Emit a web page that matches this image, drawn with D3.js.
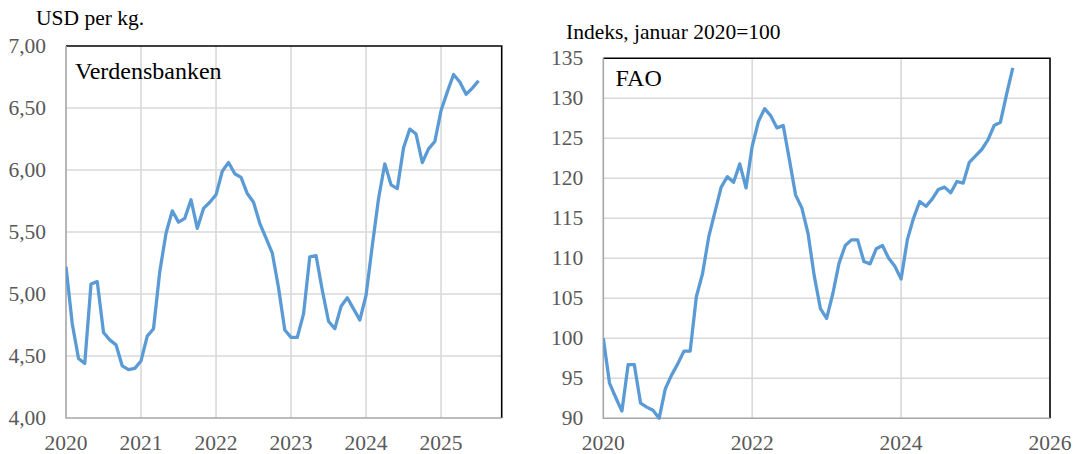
<!DOCTYPE html>
<html>
<head>
<meta charset="utf-8">
<script src="https://cdn.jsdelivr.net/npm/d3@7"></script>
<style>
  html, body { margin: 0; padding: 0; background: #fff; }
  svg text { font-family: "Liberation Serif", "Times New Roman", serif; }
</style>
</head>
<body>
<div id="app"></div>
<script>
// Monthly series, January 2020 to July 2025
const startYear = 2020;

// Verdensbanken, USD per kg.
const wbValues = [
  5.22, 4.76, 4.48, 4.44, 5.08, 5.10, 4.69, 4.63, 4.59, 4.42, 4.39, 4.40,
  4.46, 4.66, 4.72, 5.18, 5.49, 5.67, 5.58, 5.61, 5.76, 5.53, 5.69, 5.74,
  5.80, 5.99, 6.06, 5.97, 5.94, 5.81, 5.74, 5.57, 5.45, 5.33, 5.05, 4.71,
  4.65, 4.65, 4.84, 5.30, 5.31, 5.03, 4.78, 4.72, 4.90, 4.97, 4.88, 4.79,
  4.99, 5.39, 5.77, 6.05, 5.88, 5.85, 6.18, 6.33, 6.29, 6.06, 6.17, 6.23,
  6.48, 6.63, 6.77, 6.71, 6.61, 6.66, 6.72
];

// FAO, indeks januar 2020=100
const faoValues = [
  100.0, 94.4, 92.6, 90.9, 96.7, 96.7, 91.9, 91.4, 91.0, 90.0, 93.7, 95.4,
  96.8, 98.4, 98.4, 105.2, 108.1, 112.7, 115.8, 118.9, 120.2, 119.5, 121.8, 118.8,
  124.0, 127.1, 128.7, 127.8, 126.3, 126.6, 122.3, 117.9, 116.3, 113.1, 107.8, 103.7,
  102.5, 105.6, 109.4, 111.6, 112.3, 112.3, 109.6, 109.3, 111.2, 111.6, 110.0, 109.0,
  107.4, 112.3, 115.0, 117.1, 116.5, 117.4, 118.6, 118.9, 118.2, 119.6, 119.4, 122.0,
  122.8, 123.6, 124.8, 126.6, 127.0, 130.5, 133.8
];

const wbYTicks = [4.0, 4.5, 5.0, 5.5, 6.0, 6.5, 7.0];
const wbXTicks = [2020, 2021, 2022, 2023, 2024, 2025];
const faoYTicks = [90, 95, 100, 105, 110, 115, 120, 125, 130, 135];
const faoXTicks = [2020, 2022, 2024, 2026];

const d3 = window.d3;
const width = 1085, height = 454;
const serif = "'Liberation Serif', 'Times New Roman', serif";

const svg = d3.select("#app").append("svg")
  .attr("width", width)
  .attr("height", height);

const panels = [
  {
    values: wbValues,
    yTicks: wbYTicks,
    xTicks: wbXTicks,
    box: { left: 66, right: 501.7, top: 46, bottom: 418 },
    monthMax: 69.7,
    yDomain: [4, 7],
    fmt: (d) => d3.format(".2f")(d).replace(".", ","),
    unit: { text: "USD per kg.", x: 36, y: 25 },
    label: { text: "Verdensbanken", x: 75, y: 79 }
  },
  {
    values: faoValues,
    yTicks: faoYTicks,
    xTicks: faoXTicks,
    box: { left: 603.3, right: 1050, top: 58.3, bottom: 418.3 },
    monthMax: 72,
    yDomain: [90, 135],
    fmt: d3.format("d"),
    unit: { text: "Indeks, januar 2020=100", x: 566, y: 39 },
    label: { text: "FAO", x: 615.5, y: 86 }
  }
];

panels.forEach((p, i) => {
  const { box } = p;
  const x = d3.scaleLinear().domain([0, p.monthMax]).range([box.left, box.right]);
  const y = d3.scaleLinear().domain(p.yDomain).range([box.bottom, box.top]);
  const g = svg.append("g").attr("class", "panel-" + i);

  // gridlines
  g.append("g")
    .selectAll("line")
    .data(p.yTicks.filter((d) => d > p.yDomain[0] && d < p.yDomain[1]))
    .join("line")
    .attr("x1", box.left).attr("x2", box.right)
    .attr("y1", (d) => y(d)).attr("y2", (d) => y(d))
    .attr("stroke", "#d9d9d9").attr("stroke-width", 1.6);

  g.append("g")
    .selectAll("line")
    .data(p.xTicks.map((yr) => (yr - startYear) * 12).filter((m) => m > 0 && m < p.monthMax))
    .join("line")
    .attr("x1", (d) => x(d)).attr("x2", (d) => x(d))
    .attr("y1", box.top).attr("y2", box.bottom)
    .attr("stroke", "#d9d9d9").attr("stroke-width", 1.6);

  // frame: black top/right, grey axis lines left/bottom
  g.append("path")
    .attr("d", `M${box.left},${box.top}H${box.right}V${box.bottom}`)
    .attr("fill", "none").attr("stroke", "#000").attr("stroke-width", 1.6);
  g.append("path")
    .attr("d", `M${box.left},${box.top}V${box.bottom}H${box.right}`)
    .attr("fill", "none").attr("stroke", "#a6a6a6").attr("stroke-width", 1.6);

  // series
  const clipId = "clip" + i;
  g.append("clipPath").attr("id", clipId)
    .append("rect")
    .attr("x", box.left).attr("y", box.top - 2)
    .attr("width", box.right - box.left).attr("height", box.bottom - box.top + 4);

  const line = d3.line()
    .x((d, j) => x(j))
    .y((d) => y(d));

  g.append("path")
    .datum(p.values)
    .attr("clip-path", `url(#${clipId})`)
    .attr("fill", "none")
    .attr("stroke", "#5b9bd5")
    .attr("stroke-width", 3.3)
    .attr("stroke-linejoin", "round")
    .attr("d", line);

  // y tick labels
  g.append("g")
    .selectAll("text")
    .data(p.yTicks)
    .join("text")
    .attr("x", box.left - 20)
    .attr("y", (d) => y(d) + 7)
    .attr("text-anchor", "end")
    .attr("font-family", serif)
    .attr("font-size", "21.5px")
    .attr("fill", "#595959")
    .text(p.fmt);

  // x tick labels
  g.append("g")
    .selectAll("text")
    .data(p.xTicks)
    .join("text")
    .attr("x", (d) => x((d - startYear) * 12))
    .attr("y", 450)
    .attr("text-anchor", "middle")
    .attr("font-family", serif)
    .attr("font-size", "21.5px")
    .attr("fill", "#595959")
    .text((d) => d);

  // unit and source labels
  g.append("text")
    .attr("x", p.unit.x).attr("y", p.unit.y)
    .attr("font-family", serif)
    .attr("font-size", "21.5px")
    .attr("fill", "#000")
    .text(p.unit.text);

  g.append("text")
    .attr("x", p.label.x).attr("y", p.label.y)
    .attr("font-family", serif)
    .attr("font-size", "24px")
    .attr("fill", "#000")
    .text(p.label.text);
});
</script>
</body>
</html>
